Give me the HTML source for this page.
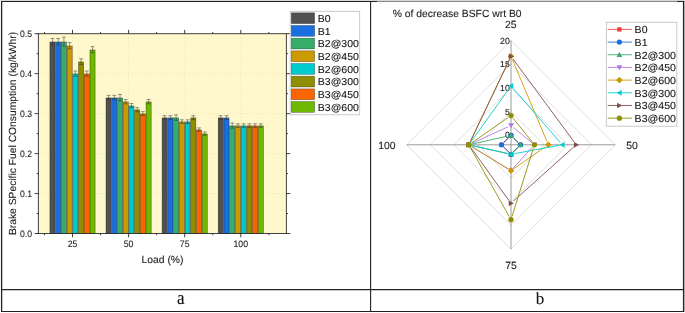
<!DOCTYPE html>
<html lang="en"><head><meta charset="utf-8"><title>BSFC charts</title>
<style>
html,body{margin:0;padding:0;background:#fff;}
body{width:685px;height:313px;overflow:hidden;font-family:"Liberation Sans", Arial, sans-serif;}
svg{display:block;}
svg text{stroke:#222;stroke-width:0.1px;text-rendering:geometricPrecision;}
</style></head><body>
<svg width="685" height="313" viewBox="0 0 685 313">
<rect width="685" height="313" fill="#fff"/>
<rect x="38.4" y="33.7" width="247.99999999999997" height="199.8" fill="#FFF8CC"/>
<g stroke="#ddd6ae" stroke-width="0.6" stroke-dasharray="1 2.2" fill="none">
<line x1="38.4" y1="193.54" x2="286.4" y2="193.54"/>
<line x1="38.4" y1="153.58" x2="286.4" y2="153.58"/>
<line x1="38.4" y1="113.62" x2="286.4" y2="113.62"/>
<line x1="38.4" y1="73.66" x2="286.4" y2="73.66"/>
<line x1="72.50" y1="33.7" x2="72.50" y2="233.5"/>
<line x1="128.60" y1="33.7" x2="128.60" y2="233.5"/>
<line x1="184.70" y1="33.7" x2="184.70" y2="233.5"/>
<line x1="240.80" y1="33.7" x2="240.80" y2="233.5"/>
</g>
<rect x="49.92" y="41.99" width="5.12" height="191.51" fill="#515151" stroke="#000" stroke-opacity="0.55" stroke-width="0.6"/>
<rect x="55.64" y="41.99" width="5.12" height="191.51" fill="#1A6FDF" stroke="#000" stroke-opacity="0.55" stroke-width="0.6"/>
<rect x="61.36" y="41.99" width="5.12" height="191.51" fill="#37AD6B" stroke="#000" stroke-opacity="0.55" stroke-width="0.6"/>
<rect x="67.08" y="45.99" width="5.12" height="187.51" fill="#CC9900" stroke="#000" stroke-opacity="0.55" stroke-width="0.6"/>
<rect x="72.80" y="73.96" width="5.12" height="159.54" fill="#00CBCC" stroke="#000" stroke-opacity="0.55" stroke-width="0.6"/>
<rect x="78.52" y="61.97" width="5.12" height="171.53" fill="#8E8E00" stroke="#000" stroke-opacity="0.55" stroke-width="0.6"/>
<rect x="84.24" y="73.96" width="5.12" height="159.54" fill="#FB6501" stroke="#000" stroke-opacity="0.55" stroke-width="0.6"/>
<rect x="89.96" y="49.98" width="5.12" height="183.52" fill="#6FB802" stroke="#000" stroke-opacity="0.55" stroke-width="0.6"/>
<rect x="106.02" y="97.94" width="5.12" height="135.56" fill="#515151" stroke="#000" stroke-opacity="0.55" stroke-width="0.6"/>
<rect x="111.74" y="97.94" width="5.12" height="135.56" fill="#1A6FDF" stroke="#000" stroke-opacity="0.55" stroke-width="0.6"/>
<rect x="117.46" y="97.94" width="5.12" height="135.56" fill="#37AD6B" stroke="#000" stroke-opacity="0.55" stroke-width="0.6"/>
<rect x="123.18" y="101.93" width="5.12" height="131.57" fill="#CC9900" stroke="#000" stroke-opacity="0.55" stroke-width="0.6"/>
<rect x="128.90" y="105.93" width="5.12" height="127.57" fill="#00CBCC" stroke="#000" stroke-opacity="0.55" stroke-width="0.6"/>
<rect x="134.62" y="109.92" width="5.12" height="123.58" fill="#8E8E00" stroke="#000" stroke-opacity="0.55" stroke-width="0.6"/>
<rect x="140.34" y="113.92" width="5.12" height="119.58" fill="#FB6501" stroke="#000" stroke-opacity="0.55" stroke-width="0.6"/>
<rect x="146.06" y="101.93" width="5.12" height="131.57" fill="#6FB802" stroke="#000" stroke-opacity="0.55" stroke-width="0.6"/>
<rect x="162.12" y="117.92" width="5.12" height="115.58" fill="#515151" stroke="#000" stroke-opacity="0.55" stroke-width="0.6"/>
<rect x="167.84" y="117.92" width="5.12" height="115.58" fill="#1A6FDF" stroke="#000" stroke-opacity="0.55" stroke-width="0.6"/>
<rect x="173.56" y="117.92" width="5.12" height="115.58" fill="#37AD6B" stroke="#000" stroke-opacity="0.55" stroke-width="0.6"/>
<rect x="179.28" y="121.91" width="5.12" height="111.59" fill="#CC9900" stroke="#000" stroke-opacity="0.55" stroke-width="0.6"/>
<rect x="185.00" y="121.91" width="5.12" height="111.59" fill="#00CBCC" stroke="#000" stroke-opacity="0.55" stroke-width="0.6"/>
<rect x="190.72" y="117.92" width="5.12" height="115.58" fill="#8E8E00" stroke="#000" stroke-opacity="0.55" stroke-width="0.6"/>
<rect x="196.44" y="129.90" width="5.12" height="103.60" fill="#FB6501" stroke="#000" stroke-opacity="0.55" stroke-width="0.6"/>
<rect x="202.16" y="133.90" width="5.12" height="99.60" fill="#6FB802" stroke="#000" stroke-opacity="0.55" stroke-width="0.6"/>
<rect x="218.22" y="117.92" width="5.12" height="115.58" fill="#515151" stroke="#000" stroke-opacity="0.55" stroke-width="0.6"/>
<rect x="223.94" y="117.92" width="5.12" height="115.58" fill="#1A6FDF" stroke="#000" stroke-opacity="0.55" stroke-width="0.6"/>
<rect x="229.66" y="125.91" width="5.12" height="107.59" fill="#37AD6B" stroke="#000" stroke-opacity="0.55" stroke-width="0.6"/>
<rect x="235.38" y="125.91" width="5.12" height="107.59" fill="#CC9900" stroke="#000" stroke-opacity="0.55" stroke-width="0.6"/>
<rect x="241.10" y="125.91" width="5.12" height="107.59" fill="#00CBCC" stroke="#000" stroke-opacity="0.55" stroke-width="0.6"/>
<rect x="246.82" y="125.91" width="5.12" height="107.59" fill="#8E8E00" stroke="#000" stroke-opacity="0.55" stroke-width="0.6"/>
<rect x="252.54" y="125.91" width="5.12" height="107.59" fill="#FB6501" stroke="#000" stroke-opacity="0.55" stroke-width="0.6"/>
<rect x="258.26" y="125.91" width="5.12" height="107.59" fill="#6FB802" stroke="#000" stroke-opacity="0.55" stroke-width="0.6"/>
<g stroke="#333" stroke-width="0.5" fill="none">
<path d="M52.48 38.53V44.86M50.48 38.53H54.48M50.48 44.86H54.48"/>
<path d="M58.20 38.53V44.86M56.20 38.53H60.20M56.20 44.86H60.20"/>
<path d="M63.92 37.18V46.20M61.92 37.18H65.92M61.92 46.20H65.92"/>
<path d="M69.64 42.59V48.79M67.64 42.59H71.64M67.64 48.79H71.64"/>
<path d="M75.36 71.02V76.30M73.36 71.02H77.36M73.36 76.30H77.36"/>
<path d="M81.08 58.84V64.51M79.08 58.84H83.08M79.08 64.51H83.08"/>
<path d="M86.80 71.02V76.30M84.80 71.02H88.80M84.80 76.30H88.80"/>
<path d="M92.52 46.65V52.72M90.52 46.65H94.52M90.52 52.72H94.52"/>
<path d="M108.58 95.39V99.88M106.58 95.39H110.58M106.58 99.88H110.58"/>
<path d="M114.30 95.39V99.88M112.30 95.39H116.30M112.30 99.88H116.30"/>
<path d="M120.02 94.44V100.83M118.02 94.44H122.02M118.02 100.83H122.02"/>
<path d="M125.74 99.46V103.81M123.74 99.46H127.74M123.74 103.81H127.74"/>
<path d="M131.46 103.52V107.74M129.46 103.52H133.46M129.46 107.74H133.46"/>
<path d="M137.18 107.58V111.67M135.18 107.58H139.18M135.18 111.67H139.18"/>
<path d="M142.90 111.64V115.60M140.90 111.64H144.90M140.90 115.60H144.90"/>
<path d="M148.62 99.46V103.81M146.62 99.46H150.62M146.62 103.81H150.62"/>
<path d="M164.68 115.70V119.53M162.68 115.70H166.68M162.68 119.53H166.68"/>
<path d="M170.40 115.70V119.53M168.40 115.70H172.40M168.40 119.53H172.40"/>
<path d="M176.12 114.89V120.34M174.12 114.89H178.12M174.12 120.34H178.12"/>
<path d="M181.84 119.77V123.46M179.84 119.77H183.84M179.84 123.46H183.84"/>
<path d="M187.56 119.77V123.46M185.56 119.77H189.56M185.56 123.46H189.56"/>
<path d="M193.28 115.70V119.53M191.28 115.70H195.28M191.28 119.53H195.28"/>
<path d="M199.00 127.89V131.32M197.00 127.89H201.00M197.00 131.32H201.00"/>
<path d="M204.72 131.95V135.25M202.72 131.95H206.72M202.72 135.25H206.72"/>
<path d="M220.78 115.70V119.53M218.78 115.70H222.78M218.78 119.53H222.78"/>
<path d="M226.50 115.70V119.53M224.50 115.70H228.50M224.50 119.53H228.50"/>
<path d="M232.22 123.07V128.14M230.22 123.07H234.22M230.22 128.14H234.22"/>
<path d="M237.94 123.83V127.39M235.94 123.83H239.94M235.94 127.39H239.94"/>
<path d="M243.66 123.83V127.39M241.66 123.83H245.66M241.66 127.39H245.66"/>
<path d="M249.38 123.83V127.39M247.38 123.83H251.38M247.38 127.39H251.38"/>
<path d="M255.10 123.83V127.39M253.10 123.83H257.10M253.10 127.39H257.10"/>
<path d="M260.82 123.83V127.39M258.82 123.83H262.82M258.82 127.39H262.82"/>
</g>
<g stroke="#2a2a2a" stroke-width="0.9" fill="none">
<path d="M38.4 33.2V234.0M37.9 233.5H286.9M37.9 33.7H286.9M286.4 33.2V234.0"/>
<path d="M34.6 233.50H38.4M286.4 233.50H290.2M36.699999999999996 213.52H38.4M286.4 213.52H288.09999999999997M34.6 193.54H38.4M286.4 193.54H290.2M36.699999999999996 173.56H38.4M286.4 173.56H288.09999999999997M34.6 153.58H38.4M286.4 153.58H290.2M36.699999999999996 133.60H38.4M286.4 133.60H288.09999999999997M34.6 113.62H38.4M286.4 113.62H290.2M36.699999999999996 93.64H38.4M286.4 93.64H288.09999999999997M34.6 73.66H38.4M286.4 73.66H290.2M36.699999999999996 53.68H38.4M286.4 53.68H288.09999999999997M34.6 33.70H38.4M286.4 33.70H290.2M44.45 233.5V235.2M44.45 33.7V32.0M72.50 233.5V237.3M72.50 33.7V29.900000000000002M100.55 233.5V235.2M100.55 33.7V32.0M128.60 233.5V237.3M128.60 33.7V29.900000000000002M156.65 233.5V235.2M156.65 33.7V32.0M184.70 233.5V237.3M184.70 33.7V29.900000000000002M212.75 233.5V235.2M212.75 33.7V32.0M240.80 233.5V237.3M240.80 33.7V29.900000000000002M268.85 233.5V235.2M268.85 33.7V32.0"/>
</g>
<g font-family='"Liberation Sans", Arial, sans-serif' fill="#222">
<text transform="translate(32.0 236.70) scale(0.94 1)" font-size="9.2" text-anchor="end">0.0</text>
<text transform="translate(32.0 196.74) scale(0.94 1)" font-size="9.2" text-anchor="end">0.1</text>
<text transform="translate(32.0 156.78) scale(0.94 1)" font-size="9.2" text-anchor="end">0.2</text>
<text transform="translate(32.0 116.82) scale(0.94 1)" font-size="9.2" text-anchor="end">0.3</text>
<text transform="translate(32.0 76.86) scale(0.94 1)" font-size="9.2" text-anchor="end">0.4</text>
<text transform="translate(32.0 36.90) scale(0.94 1)" font-size="9.2" text-anchor="end">0.5</text>
<text transform="translate(72.50 246.9) scale(0.93 1)" font-size="9.4" text-anchor="middle">25</text>
<text transform="translate(128.60 246.9) scale(0.93 1)" font-size="9.4" text-anchor="middle">50</text>
<text transform="translate(184.70 246.9) scale(0.93 1)" font-size="9.4" text-anchor="middle">75</text>
<text transform="translate(240.80 246.9) scale(0.93 1)" font-size="9.4" text-anchor="middle">100</text>
</g>
<text x="162.5" y="262.6" text-anchor="middle" font-family='"Liberation Sans", Arial, sans-serif' font-size="10.35" fill="#222">Load (%)</text>
<text transform="translate(15.6 133.5) rotate(-90)" text-anchor="middle" font-family='"Liberation Sans", Arial, sans-serif' font-size="10.3" fill="#222">Brake SPecific Fuel COnsumption (kg/kWhr)</text>
<rect x="290.2" y="11.3" width="69.5" height="103.5" fill="#fff" stroke="#bdbdbd" stroke-width="0.8"/>
<rect x="291.3" y="12.80" width="23.3" height="10.8" fill="#515151" stroke="#000" stroke-opacity="0.45" stroke-width="0.6"/>
<text transform="translate(317.8 22.00) scale(1.04 1)" font-family='"Liberation Sans", Arial, sans-serif' font-size="10.1" fill="#111">B0</text>
<rect x="291.3" y="25.48" width="23.3" height="10.8" fill="#1A6FDF" stroke="#000" stroke-opacity="0.45" stroke-width="0.6"/>
<text transform="translate(317.8 34.68) scale(1.04 1)" font-family='"Liberation Sans", Arial, sans-serif' font-size="10.1" fill="#111">B1</text>
<rect x="291.3" y="38.16" width="23.3" height="10.8" fill="#37AD6B" stroke="#000" stroke-opacity="0.45" stroke-width="0.6"/>
<text transform="translate(317.8 47.36) scale(1.04 1)" font-family='"Liberation Sans", Arial, sans-serif' font-size="10.1" fill="#111">B2@300</text>
<rect x="291.3" y="50.84" width="23.3" height="10.8" fill="#CC9900" stroke="#000" stroke-opacity="0.45" stroke-width="0.6"/>
<text transform="translate(317.8 60.04) scale(1.04 1)" font-family='"Liberation Sans", Arial, sans-serif' font-size="10.1" fill="#111">B2@450</text>
<rect x="291.3" y="63.52" width="23.3" height="10.8" fill="#00CBCC" stroke="#000" stroke-opacity="0.45" stroke-width="0.6"/>
<text transform="translate(317.8 72.72) scale(1.04 1)" font-family='"Liberation Sans", Arial, sans-serif' font-size="10.1" fill="#111">B2@600</text>
<rect x="291.3" y="76.20" width="23.3" height="10.8" fill="#8E8E00" stroke="#000" stroke-opacity="0.45" stroke-width="0.6"/>
<text transform="translate(317.8 85.40) scale(1.04 1)" font-family='"Liberation Sans", Arial, sans-serif' font-size="10.1" fill="#111">B3@300</text>
<rect x="291.3" y="88.88" width="23.3" height="10.8" fill="#FB6501" stroke="#000" stroke-opacity="0.45" stroke-width="0.6"/>
<text transform="translate(317.8 98.08) scale(1.04 1)" font-family='"Liberation Sans", Arial, sans-serif' font-size="10.1" fill="#111">B3@450</text>
<rect x="291.3" y="101.56" width="23.3" height="10.8" fill="#6FB802" stroke="#000" stroke-opacity="0.45" stroke-width="0.6"/>
<text transform="translate(317.8 110.76) scale(1.04 1)" font-family='"Liberation Sans", Arial, sans-serif' font-size="10.1" fill="#111">B3@600</text>
<g stroke="#d4d4d4" stroke-width="0.75" fill="none">
<polygon points="511.00,135.32 520.48,144.80 511.00,154.28 501.52,144.80"/>
<polygon points="511.00,111.61 544.19,144.80 511.00,177.99 477.81,144.80"/>
<polygon points="511.00,87.91 567.89,144.80 511.00,201.69 454.11,144.80"/>
<polygon points="511.00,64.20 591.60,144.80 511.00,225.40 430.40,144.80"/>
<polygon points="511.00,40.50 615.30,144.80 511.00,249.10 406.70,144.80"/>
</g>
<path d="M511.0 40.50V249.10M406.70 144.8H615.30" stroke="#8f8f8f" stroke-width="0.9" fill="none"/>
<g font-family='"Liberation Sans", Arial, sans-serif' font-size="8.8" fill="#222" text-anchor="end">
<text x="509.8" y="138.42">0</text>
<text x="509.8" y="114.71">5</text>
<text x="509.8" y="91.01">10</text>
<text x="509.8" y="67.30">15</text>
<text x="509.8" y="43.60">20</text>
</g>
<path d="M513.40 137.72L518.08 142.40M518.08 147.20L513.40 151.88M508.60 151.88L503.92 147.20M503.92 142.40L508.60 137.72" fill="none" stroke="#F14040" stroke-width="0.88"/>
<rect x="508.85" y="133.17" width="4.3" height="4.3" fill="#F14040"/>
<rect x="518.33" y="142.65" width="4.3" height="4.3" fill="#F14040"/>
<rect x="508.85" y="152.13" width="4.3" height="4.3" fill="#F14040"/>
<rect x="499.37" y="142.65" width="4.3" height="4.3" fill="#F14040"/>
<path d="M513.40 137.72L518.08 142.40M518.08 147.20L513.40 151.88M508.60 151.88L503.92 147.20M503.92 142.40L508.60 137.72" fill="none" stroke="#1A6FDF" stroke-width="0.88"/>
<circle cx="511.00" cy="135.32" r="2.65" fill="#1A6FDF"/>
<circle cx="520.48" cy="144.80" r="2.65" fill="#1A6FDF"/>
<circle cx="511.00" cy="154.28" r="2.65" fill="#1A6FDF"/>
<circle cx="501.52" cy="144.80" r="2.65" fill="#1A6FDF"/>
<path d="M513.40 137.72L518.08 142.40M518.08 147.20L513.40 151.88M507.68 153.54L472.12 145.55M472.12 144.05L507.68 136.06" fill="none" stroke="#37AD6B" stroke-width="0.88"/>
<polygon points="511.00,132.47 513.85,137.60 508.15,137.60" fill="#37AD6B"/>
<polygon points="520.48,141.95 523.33,147.08 517.63,147.08" fill="#37AD6B"/>
<polygon points="511.00,151.43 513.85,156.56 508.15,156.56" fill="#37AD6B"/>
<polygon points="468.81,141.95 471.66,147.08 465.96,147.08" fill="#37AD6B"/>
<path d="M513.62 127.62L531.80 142.63M532.14 147.32L513.28 168.12M508.10 168.86L471.71 146.58M471.90 143.38L507.91 126.87" fill="none" stroke="#B177DE" stroke-width="0.88"/>
<polygon points="511.00,128.31 513.85,123.18 508.15,123.18" fill="#B177DE"/>
<polygon points="534.42,147.65 537.27,142.52 531.57,142.52" fill="#B177DE"/>
<polygon points="511.00,173.49 513.85,168.36 508.15,168.36" fill="#B177DE"/>
<polygon points="468.81,147.65 471.66,142.52 465.96,142.52" fill="#B177DE"/>
<path d="M512.32 59.42L547.04 141.67M545.56 146.73L513.80 168.70M508.10 168.86L471.71 146.58M470.27 141.73L509.54 59.36" fill="none" stroke="#CC9900" stroke-width="0.88"/>
<polygon points="511.00,52.99 514.30,56.29 511.00,59.59 507.70,56.29" fill="#CC9900"/>
<polygon points="548.36,141.50 551.66,144.80 548.36,148.10 545.06,144.80" fill="#CC9900"/>
<polygon points="511.00,167.34 514.30,170.64 511.00,173.94 507.70,170.64" fill="#CC9900"/>
<polygon points="468.81,141.50 472.11,144.80 468.81,148.10 465.51,144.80" fill="#CC9900"/>
<path d="M513.23 88.48L560.06 142.24M558.95 145.42L514.34 153.66M507.68 153.54L472.12 145.55M470.79 142.04L509.02 88.68" fill="none" stroke="#00CBCC" stroke-width="0.88"/>
<polygon points="508.15,85.92 513.28,83.07 513.28,88.77" fill="#00CBCC"/>
<polygon points="559.45,144.80 564.58,141.95 564.58,147.65" fill="#00CBCC"/>
<polygon points="508.15,154.28 513.28,151.43 513.28,157.13" fill="#00CBCC"/>
<polygon points="465.96,144.80 471.09,141.95 471.09,147.65" fill="#00CBCC"/>
<path d="M513.02 59.02L574.22 142.06M573.70 147.07L513.53 201.03M509.01 200.55L470.79 147.56M470.27 141.73L509.54 59.36" fill="none" stroke="#7D4E4E" stroke-width="0.88"/>
<polygon points="513.85,56.29 508.72,53.44 508.72,59.14" fill="#7D4E4E"/>
<polygon points="579.08,144.80 573.95,141.95 573.95,147.65" fill="#7D4E4E"/>
<polygon points="513.85,203.30 508.72,200.45 508.72,206.15" fill="#7D4E4E"/>
<polygon points="471.66,144.80 466.53,141.95 466.53,147.65" fill="#7D4E4E"/>
<path d="M513.13 118.20L532.30 142.15M533.40 148.04L512.02 216.41M509.33 216.70L470.48 147.76M471.60 142.86L508.21 117.49" fill="none" stroke="#8E8E00" stroke-width="0.88"/>
<circle cx="511.00" cy="115.55" r="2.65" fill="#8E8E00"/>
<circle cx="534.42" cy="144.80" r="2.65" fill="#8E8E00"/>
<circle cx="511.00" cy="219.66" r="2.65" fill="#8E8E00"/>
<circle cx="468.81" cy="144.80" r="2.65" fill="#8E8E00"/>
<g font-family='"Liberation Sans", Arial, sans-serif' font-size="10.4" fill="#222">
<text x="510.8" y="27.6" text-anchor="middle">25</text>
<text x="632.1" y="148.5" text-anchor="middle">50</text>
<text x="511" y="269" text-anchor="middle">75</text>
<text x="386.8" y="148.5" text-anchor="middle">100</text>
</g>
<text x="392.8" y="16.8" font-family='"Liberation Sans", Arial, sans-serif' font-size="10.35" fill="#222">% of decrease BSFC wrt B0</text>
<rect x="606.3" y="22.3" width="70.5" height="103.9" fill="#fff" stroke="#bdbdbd" stroke-width="0.8"/>
<line x1="607.7" y1="29.40" x2="631.9" y2="29.40" stroke="#F14040" stroke-width="0.88"/>
<rect x="617.25" y="27.25" width="4.3" height="4.3" fill="#F14040"/>
<text transform="translate(634.6 33.15) scale(1.04 1)" font-family='"Liberation Sans", Arial, sans-serif' font-size="10.2" fill="#111">B0</text>
<line x1="607.7" y1="42.08" x2="631.9" y2="42.08" stroke="#1A6FDF" stroke-width="0.88"/>
<circle cx="619.40" cy="42.08" r="2.65" fill="#1A6FDF"/>
<text transform="translate(634.6 45.83) scale(1.04 1)" font-family='"Liberation Sans", Arial, sans-serif' font-size="10.2" fill="#111">B1</text>
<line x1="607.7" y1="54.76" x2="631.9" y2="54.76" stroke="#37AD6B" stroke-width="0.88"/>
<polygon points="619.40,51.91 622.25,57.04 616.55,57.04" fill="#37AD6B"/>
<text transform="translate(634.6 58.51) scale(1.04 1)" font-family='"Liberation Sans", Arial, sans-serif' font-size="10.2" fill="#111">B2@300</text>
<line x1="607.7" y1="67.44" x2="631.9" y2="67.44" stroke="#B177DE" stroke-width="0.88"/>
<polygon points="619.40,70.29 622.25,65.16 616.55,65.16" fill="#B177DE"/>
<text transform="translate(634.6 71.19) scale(1.04 1)" font-family='"Liberation Sans", Arial, sans-serif' font-size="10.2" fill="#111">B2@450</text>
<line x1="607.7" y1="80.12" x2="631.9" y2="80.12" stroke="#CC9900" stroke-width="0.88"/>
<polygon points="619.40,76.82 622.70,80.12 619.40,83.42 616.10,80.12" fill="#CC9900"/>
<text transform="translate(634.6 83.87) scale(1.04 1)" font-family='"Liberation Sans", Arial, sans-serif' font-size="10.2" fill="#111">B2@600</text>
<line x1="607.7" y1="92.80" x2="631.9" y2="92.80" stroke="#00CBCC" stroke-width="0.88"/>
<polygon points="616.55,92.80 621.68,89.95 621.68,95.65" fill="#00CBCC"/>
<text transform="translate(634.6 96.55) scale(1.04 1)" font-family='"Liberation Sans", Arial, sans-serif' font-size="10.2" fill="#111">B3@300</text>
<line x1="607.7" y1="105.48" x2="631.9" y2="105.48" stroke="#7D4E4E" stroke-width="0.88"/>
<polygon points="622.25,105.48 617.12,102.63 617.12,108.33" fill="#7D4E4E"/>
<text transform="translate(634.6 109.23) scale(1.04 1)" font-family='"Liberation Sans", Arial, sans-serif' font-size="10.2" fill="#111">B3@450</text>
<line x1="607.7" y1="118.16" x2="631.9" y2="118.16" stroke="#8E8E00" stroke-width="0.88"/>
<circle cx="619.40" cy="118.16" r="2.65" fill="#8E8E00"/>
<text transform="translate(634.6 121.91) scale(1.04 1)" font-family='"Liberation Sans", Arial, sans-serif' font-size="10.2" fill="#111">B3@600</text>
<g stroke="#222" fill="none">
<path d="M1.6 1.5V312" stroke-width="1.3"/>
<path d="M683.5 1.5V312" stroke-width="1.15"/>
<path d="M1 1.45H377.5M677 1.45H684.6M1 289.6H684.6M1 311.45H684.6M370.6 1.5V311.5" stroke-width="1.1"/>
</g>
<rect x="0" y="0" width="685" height="0.9" fill="#d4d4d4"/>
<rect x="684.05" y="1" width="0.95" height="311" fill="#ababab"/>
<path d="M377.5 1.45H677" stroke="#8a8a8a" stroke-width="1.1" fill="none"/>
<text transform="translate(180.8 303.5) scale(1 1.13)" text-anchor="middle" font-family='"Liberation Serif", "Times New Roman", serif' font-size="17" fill="#111">a</text>
<text x="540" y="303.9" text-anchor="middle" font-family='"Liberation Serif", "Times New Roman", serif' font-size="17" fill="#111">b</text>
</svg>
</body></html>
